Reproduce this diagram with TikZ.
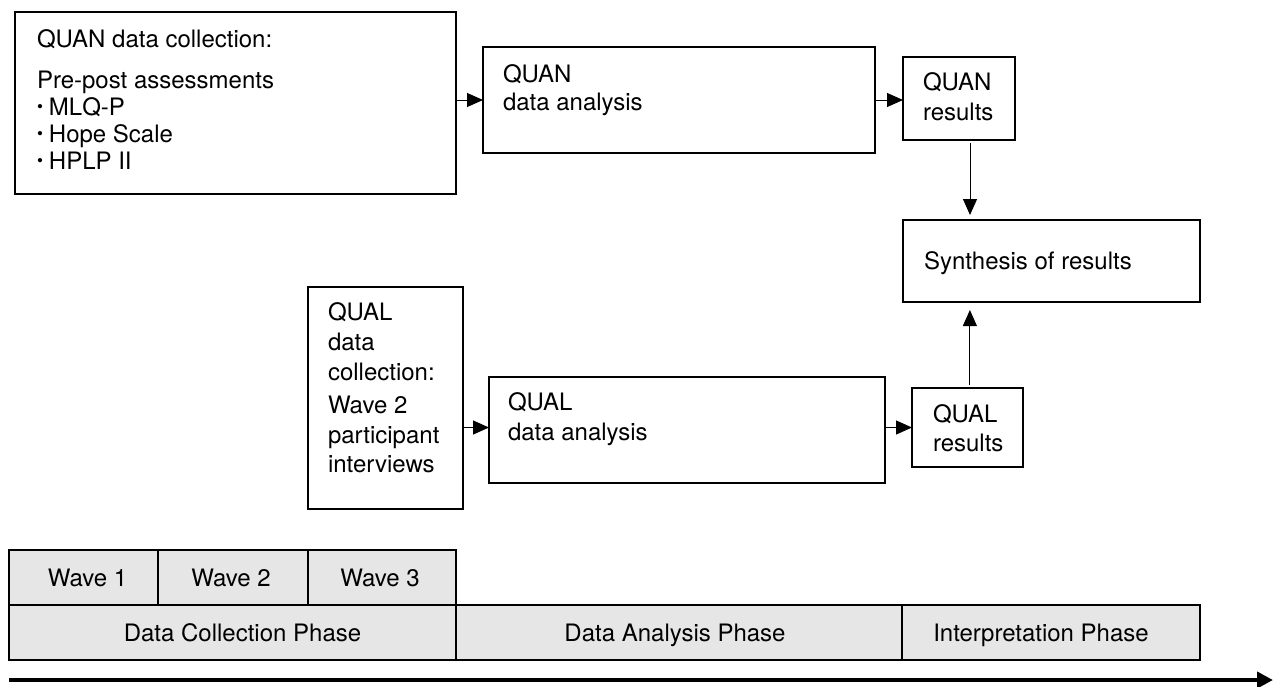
\documentclass[tikz,border=0pt]{standalone}
\usepackage{fontspec}
\setmainfont{TeX Gyre Heros}
\usetikzlibrary{arrows.meta}
\definecolor{bandgray}{RGB}{230,230,230}
\newcommand{\mybul}{\raisebox{1.1pt}{\fontsize{8.5}{8.5}\selectfont\textbullet}\hspace{3pt}}
\begin{document}
\begin{tikzpicture}[x=0.5pt,y=-0.5pt,
  box/.style={draw=black, line width=0.6pt, inner sep=0pt, outer sep=0pt, anchor=north west},
  lbl/.style={anchor=base west, inner sep=0pt, outer sep=0pt, font=\fontsize{12}{14}\selectfont},
  cell/.style={draw=black, line width=0.6pt, fill=bandgray, inner sep=0pt, outer sep=0pt,
    anchor=north west, minimum height=55*0.5pt},
  celltext/.style={inner sep=0pt, outer sep=0pt, text height=8.8pt, text depth=0pt,
    font=\fontsize{12}{14}\selectfont},
  arr/.style={-{Triangle[length=8pt,width=7pt]}, line width=0.5pt},
  bigarr/.style={-{Triangle[length=8pt,width=8pt]}, line width=2.3pt}]
\useasboundingbox (0,0) rectangle (1273,686);

% boxes
\node[box, minimum width=441*0.5pt, minimum height=182*0.5pt] (quancoll) at (15,12) {};
\node[box, minimum width=392*0.5pt, minimum height=106*0.5pt] (quanana) at (483,47) {};
\node[box, minimum width=112*0.5pt, minimum height=83*0.5pt] (quanres) at (903,57) {};
\node[box, minimum width=297*0.5pt, minimum height=82*0.5pt] (synth) at (903,220) {};
\node[box, minimum width=155*0.5pt, minimum height=222*0.5pt] (qualcoll) at (308,287) {};
\node[box, minimum width=396*0.5pt, minimum height=106*0.5pt] (qualana) at (489,377) {};
\node[box, minimum width=111*0.5pt, minimum height=79*0.5pt] (qualres) at (912,388) {};

% texts
\node[lbl] (t1a) at (37,47) {QUAN data collection:};
\node[lbl] (t1b) at (37,88) {Pre-post assessments};
\node[lbl] (t1c) at (37,115) {\mybul MLQ-P};
\node[lbl] (t1d) at (37,142) {\mybul Hope Scale};
\node[lbl] (t1e) at (37,169) {\mybul HPLP II};

\node[lbl] (t2a) at (503,82) {QUAN};
\node[lbl] (t2b) at (503,110) {data analysis};

\node[lbl] (t3a) at (923,90) {QUAN};
\node[lbl] (t3b) at (923,120) {results};

\node[lbl] (t4a) at (924,269) {Synthesis of results};

\node[lbl] (t5a) at (328,320) {QUAL};
\node[lbl] (t5b) at (328,350) {data};
\node[lbl] (t5c) at (328,380) {collection:};
\node[lbl] (t5d) at (328,413) {Wave 2};
\node[lbl] (t5e) at (328,443) {participant};
\node[lbl] (t5f) at (328,472) {interviews};

\node[lbl] (t6a) at (508,410) {QUAL};
\node[lbl] (t6b) at (508,440) {data analysis};

\node[lbl] (t7a) at (933,422) {QUAL};
\node[lbl] (t7b) at (933,451) {results};

% connectors
\draw[arr] (quancoll.east |- quanana.west) -- (quanana.west);
\draw[arr] (quanana.east) -- (quanana.east -| quanres.west);
\draw[arr, shorten <=1.5pt, shorten >=2.5pt] ([xshift=5.5pt]quanres.south) -- ([xshift=5.5pt]quanres.south |- synth.north);
\draw[arr, shorten <=1.5pt, shorten >=4pt] ([xshift=1.2pt]qualres.north) -- ([xshift=1.2pt]qualres.north |- synth.south);
\draw[arr] (qualcoll.east |- qualres.west) -- (qualana.west |- qualres.west);
\draw[arr] (qualana.east |- qualres.west) -- (qualres.west);

% timeline band
\node[cell, minimum width=149*0.5pt] (w1) at (9,550) {};
\node[cell, minimum width=150*0.5pt] (w2) at (158,550) {};
\node[cell, minimum width=148*0.5pt] (w3) at (308,550) {};
\node[cell, minimum width=447*0.5pt] (p1) at (9,605) {};
\node[cell, minimum width=446*0.5pt] (p2) at (456,605) {};
\node[cell, minimum width=298*0.5pt] (p3) at (902,605) {};

\node[celltext] (w1t) at ([xshift=2pt]w1.center) {Wave 1};
\node[celltext] (w2t) at ([xshift=-1pt]w2.center) {Wave 2};
\node[celltext] (w3t) at ([xshift=-1pt]w3.center) {Wave 3};
\node[celltext] (p1t) at ([xshift=5pt]p1.center) {Data Collection Phase};
\node[celltext] (p2t) at ([xshift=-2pt]p2.center) {Data Analysis Phase};
\node[celltext] (p3t) at ([xshift=-5pt]p3.center) {Interpretation Phase};

\coordinate (tl0) at (9,680);
\coordinate (tl1) at (1273,680);
\draw[bigarr] (tl0) -- (tl1);
\end{tikzpicture}
\end{document}
